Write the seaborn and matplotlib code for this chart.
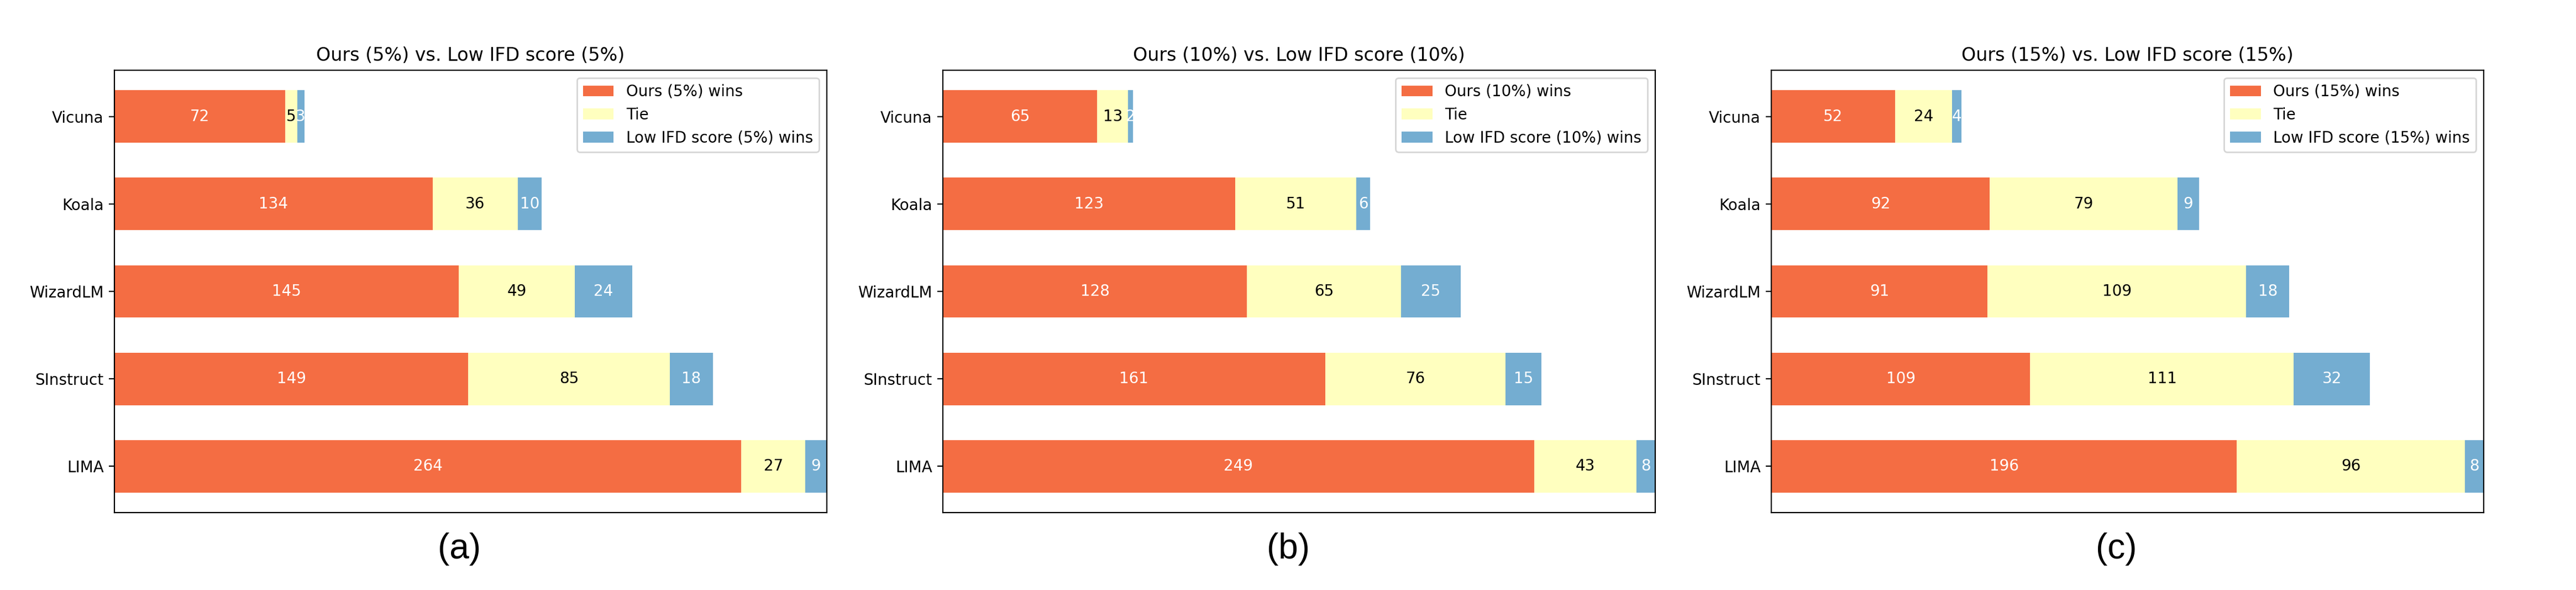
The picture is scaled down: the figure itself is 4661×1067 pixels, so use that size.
import matplotlib
matplotlib.use('Agg')
import matplotlib.pyplot as plt
import seaborn as sns

# Data
models = ['Vicuna', 'Koala', 'WizardLM', 'SInstruct', 'LIMA']

ours_5 = [72, 134, 145, 149, 264]
tie_5 = [5, 36, 49, 85, 27]
low_5 = [3, 10, 24, 18, 9]

ours_10 = [65, 123, 128, 161, 249]
tie_10 = [13, 51, 65, 76, 43]
low_10 = [2, 6, 25, 15, 8]

ours_15 = [52, 92, 91, 109, 196]
tie_15 = [24, 79, 109, 111, 96]
low_15 = [4, 9, 18, 32, 8]

ratios = ['5%', '10%', '15%']
captions = ['(a)', '(b)', '(c)']
panels = [(ours_5, tie_5, low_5), (ours_10, tie_10, low_10), (ours_15, tie_15, low_15)]

c_ours = '#f46d43'
c_tie = '#ffffbf'
c_low = '#74add1'

fig, axes = plt.subplots(1, 3, figsize=(23.305, 5.335), dpi=200)
fig.subplots_adjust(left=0.0444, right=0.9642, top=0.881, bottom=0.1312, wspace=0.163)

for ax, (ours, tie, low), r, cap in zip(axes, panels, ratios, captions):
    left_low = [o + t for o, t in zip(ours, tie)]
    sns.barplot(x=ours, y=models, orient='h', color=c_ours, saturation=1,
                width=0.6, errorbar=None, label=f'Ours ({r}) wins', ax=ax)
    sns.barplot(x=tie, y=models, left=ours, orient='h', color=c_tie, saturation=1,
                width=0.6, errorbar=None, label='Tie', ax=ax)
    sns.barplot(x=low, y=models, left=left_low, orient='h', color=c_low, saturation=1,
                width=0.6, errorbar=None, label=f'Low IFD score ({r}) wins', ax=ax)

    # numbers in the middle of each segment
    for cont, vals, tc in zip(ax.containers, [ours, tie, low], ['white', 'black', 'white']):
        ax.bar_label(cont, labels=[str(v) for v in vals], label_type='center',
                     color=tc, fontsize=10)

    ax.set_xlim(0, 300)
    ax.set_ylim(4.53, -0.53)
    ax.set_xticks([])
    ax.set_xlabel('')
    ax.set_ylabel('')
    ax.tick_params(axis='y', labelsize=10)
    ax.set_title(f'Ours ({r}) vs. Low IFD score ({r})', fontsize=12)
    ax.legend(loc='upper right', fontsize=10)

    pos = ax.get_position()
    fig.text((pos.x0 + pos.x1) / 2 - 20 / 4661, 0.069, cap, ha='center', va='center',
             fontsize=23, family='Liberation Sans')

plt.savefig('out.png', dpi=200)
plt.close()
